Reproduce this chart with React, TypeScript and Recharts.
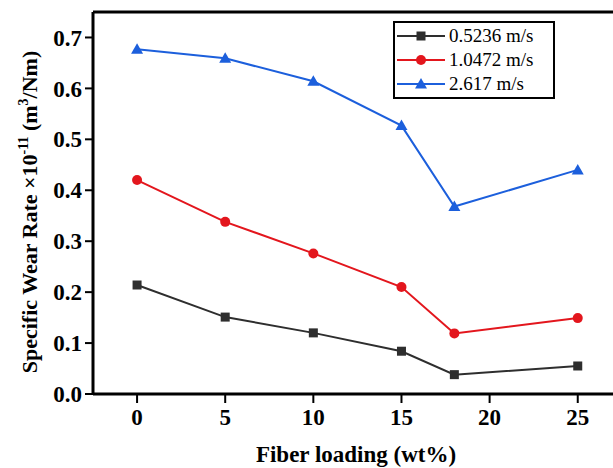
import { LineChart, Line, XAxis, YAxis, ReferenceLine } from "recharts";

const loading = [0, 5, 10, 15, 18, 25];
const slow = [0.214, 0.151, 0.12, 0.084, 0.038, 0.055];
const mid = [0.42, 0.338, 0.276, 0.21, 0.119, 0.149];
const fast = [0.677, 0.659, 0.614, 0.527, 0.368, 0.44];
const xTicks = [0, 5, 10, 15, 20, 25];
const yTicks = [0, 0.1, 0.2, 0.3, 0.4, 0.5, 0.6, 0.7];

const series = [
  { key: "slow", name: "0.5236 m/s", color: "#2e2e2e", shape: "square" },
  { key: "mid", name: "1.0472 m/s", color: "#e3161d", shape: "circle" },
  { key: "fast", name: "2.617 m/s", color: "#1c5fdc", shape: "triangle" },
];

const data = loading.map((x, i) => ({ x, slow: slow[i], mid: mid[i], fast: fast[i] }));

const font = "'Liberation Serif', 'Times New Roman', serif";

function Marker({ cx, cy, shape, color, size = 1 }: any) {
  if (cx == null || cy == null) return null;
  if (shape === "square") {
    const s = 9 * size;
    return <rect x={cx - s / 2} y={cy - s / 2} width={s} height={s} fill={color} />;
  }
  if (shape === "circle") return <circle cx={cx} cy={cy} r={5 * size} fill={color} />;
  const h = 10 * size;
  return (
    <polygon
      points={`${cx},${cy - h * 0.6} ${cx - h * 0.6},${cy + h * 0.45} ${cx + h * 0.6},${cy + h * 0.45}`}
      fill={color}
    />
  );
}

// legend box sits inside the plot, top right
function LegendBox() {
  return (
    <div
      style={{
        position: "absolute",
        left: 393,
        top: 21,
        border: "2px solid #000",
        background: "#fff",
        padding: "1px 4px 1px 0",
        fontFamily: font,
        fontSize: 19,
        lineHeight: "24px",
        width: 154,
      }}
    >
      {series.map((s) => (
        <div key={s.key} style={{ display: "flex", alignItems: "center" }}>
          <svg width={52} height={20}>
            <line x1={2} x2={50} y1={10} y2={10} stroke={s.color} strokeWidth={1.8} />
            <Marker cx={26} cy={10} shape={s.shape} color={s.color} />
          </svg>
          <span style={{ marginLeft: 2 }}>{s.name}</span>
        </div>
      ))}
    </div>
  );
}

export default function App() {
  return (
    <div style={{ position: "absolute", left: 0, top: 0, width: 613, height: 468, background: "#fff" }}>
      <LineChart width={613} height={468} data={data} margin={{ top: 12, right: 0, left: 0, bottom: 0 }}>
        <XAxis
          dataKey="x"
          type="number"
          domain={[-2.5, 27]}
          ticks={xTicks}
          allowDataOverflow
          height={74}
          tickSize={9}
          tickMargin={6}
          axisLine={{ stroke: "#000", strokeWidth: 3 }}
          tickLine={{ stroke: "#000", strokeWidth: 2 }}
          tick={{ fill: "#000", fontFamily: font, fontWeight: 700, fontSize: 23 }}
          label={{
            content: () => (
              <text x={356} y={462} textAnchor="middle" fontFamily={font} fontWeight={700} fontSize={23} fill="#000">
                Fiber loading (wt%)
              </text>
            ),
          }}
        />
        <YAxis
          type="number"
          domain={[0, 0.75]}
          ticks={yTicks}
          width={93}
          tickSize={8}
          tickMargin={3}
          tickFormatter={(v: number) => v.toFixed(1)}
          axisLine={{ stroke: "#000", strokeWidth: 3 }}
          tickLine={{ stroke: "#000", strokeWidth: 2 }}
          tick={{ fill: "#000", fontFamily: font, fontWeight: 700, fontSize: 23 }}
          label={{
            content: () => (
              <text
                x={0}
                y={0}
                transform="translate(37, 212) rotate(-90)"
                textAnchor="middle"
                fontFamily={font}
                fontWeight={700}
                fontSize={22}
                fill="#000"
              >
                Specific Wear Rate ×10
                <tspan dy={-9} fontSize={14}>-11</tspan>
                <tspan dy={9}> (m</tspan>
                <tspan dy={-9} fontSize={14}>3</tspan>
                <tspan dy={9}>/Nm)</tspan>
              </text>
            ),
          }}
        />
        <ReferenceLine y={0.75} stroke="#000" strokeWidth={3} />
        {series.map((s) => (
          <Line
            key={s.key}
            dataKey={s.key}
            name={s.name}
            stroke={s.color}
            strokeWidth={2}
            isAnimationActive={false}
            dot={(p: any) => <Marker key={`${s.key}-${p.index}`} cx={p.cx} cy={p.cy} shape={s.shape} color={s.color} />}
            activeDot={false}
          />
        ))}
      </LineChart>
      <LegendBox />
    </div>
  );
}
